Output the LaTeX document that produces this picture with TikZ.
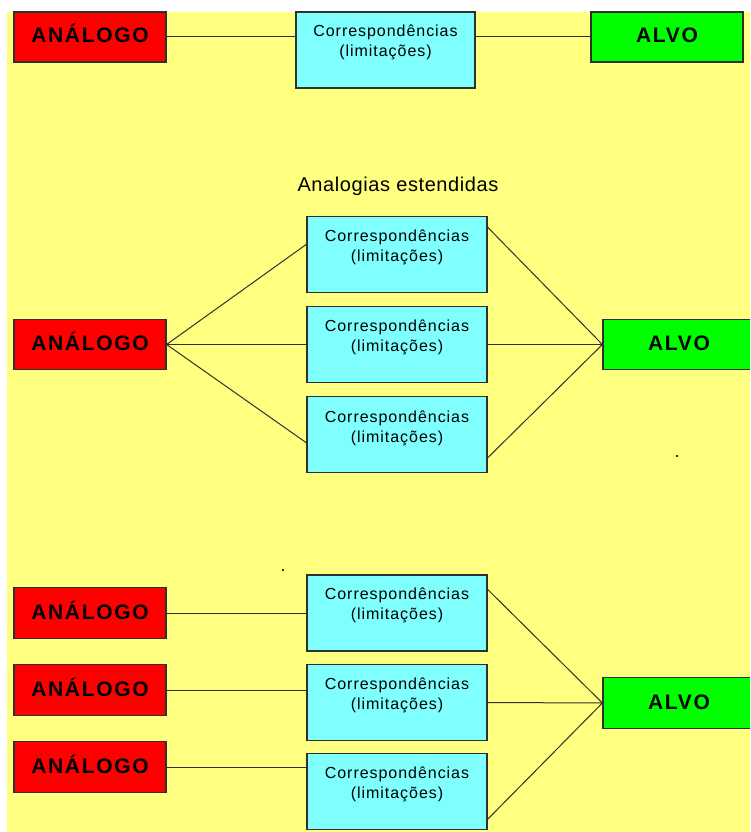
\documentclass[tikz,border=0pt]{standalone}
\usepackage{fontspec}
\setmainfont{Liberation Sans}
\newfontfamily\tagfont{Liberation Sans}[LetterSpace=8]
\newfontfamily\corrfont{Liberation Sans}[LetterSpace=6]
\newfontfamily\titlefont{Liberation Sans}[LetterSpace=3]
\usetikzlibrary{calc}
\definecolor{paper}{HTML}{FFFF80}
\definecolor{srcred}{HTML}{FF0000}
\definecolor{tgtgreen}{HTML}{00FF00}
\definecolor{corrcyan}{HTML}{80FFFF}
\definecolor{ink}{HTML}{303030}
\begin{document}
\begin{tikzpicture}[x=1pt,y=-1pt,
  box/.style={draw=ink, line width=1.2pt, rectangle, inner sep=0pt},
  tag/.style={box, minimum width=152pt, minimum height=50pt,
    text height=15pt, text depth=3pt,
    font=\tagfont\bfseries\fontsize{21}{21}\selectfont},
  source/.style={tag, fill=srcred},
  target/.style={tag, fill=tgtgreen},
  corr/.style={box, fill=corrcyan, minimum width=180pt, minimum height=76pt},
  corrtext/.style={anchor=north, inner sep=0pt, align=center,
    font=\corrfont\fontsize{16}{20}\selectfont},
  titletext/.style={anchor=base, inner sep=0pt, font=\titlefont\fontsize{20}{20}\selectfont},
  link/.style={draw=ink, line width=1pt}]

\useasboundingbox (0,0) rectangle (750,832);
\clip (0,0) rectangle (750,832);
\fill[paper] (7,12) rectangle (750,832);

% --- simple analogy ---
\node[source] (a0) at (90,37) {ANÁLOGO};
\node[corr, minimum width=179pt] (c0) at (385.5,50) {};
\node[corrtext] (l0) at ($(c0.north)+(0,13.5)$) {Correspondências\\(limitações)};
\node[target] (t0) at (667,37) {ALVO};
\draw[link] (a0.east) -- (a0.east -| c0.west);
\draw[link] (c0.east |- t0.west) -- (t0.west);

% --- extended analogies: one source ---
\node[titletext] (title) at (398,191.7) {Analogias estendidas};
\node[source] (a1) at (90,344.5) {ANÁLOGO};
\node[corr] (c1) at (397,254.3) {};
\node[corr] (c2) at (397,344.5) {};
\node[corr] (c3) at (397,434.8) {};
\node[corrtext] (l1) at ($(c1.north)+(0,14)$) {Correspondências\\(limitações)};
\node[corrtext] (l2) at ($(c2.north)+(0,14)$) {Correspondências\\(limitações)};
\node[corrtext] (l3) at ($(c3.north)+(0,14)$) {Correspondências\\(limitações)};
\node[target] (t1) at (679,344.5) {ALVO};
\draw[link] (a1.east) -- ($(c1.west)+(0,-10)$);
\draw[link] (a1.east) -- (c2.west);
\draw[link] (a1.east) -- ($(c3.west)+(0,8)$);
\draw[link] ($(c1.north east)+(0,11.5)$) -- (t1.west);
\draw[link] (c2.east) -- (t1.west);
\draw[link] ($(c3.south east)+(0,-15.5)$) -- (t1.west);

% --- extended analogies: several sources ---
\node[source, minimum height=51pt] (a2) at (90,613.3) {ANÁLOGO};
\node[source, minimum height=51pt] (a3) at (90,690) {ANÁLOGO};
\node[source, minimum height=51pt] (a4) at (90,767.3) {ANÁLOGO};
\node[corr] (c4) at (397,613) {};
\node[corr] (c5) at (397,702.5) {};
\node[corr] (c6) at (397,791.7) {};
\node[corrtext] (l4) at ($(c4.north)+(0,13.5)$) {Correspondências\\(limitações)};
\node[corrtext] (l5) at ($(c5.north)+(0,13.5)$) {Correspondências\\(limitações)};
\node[corrtext] (l6) at ($(c6.north)+(0,13.5)$) {Correspondências\\(limitações)};
\node[target, minimum height=51pt] (t2) at (679,703) {ALVO};
\draw[link] (a2.east) -- (a2.east -| c4.west);
\draw[link] (a3.east) -- (a3.east -| c5.west);
\draw[link] (a4.east) -- (a4.east -| c6.west);
\draw[link] ($(c4.north east)+(0,15)$) -- (t2.west);
\draw[link] (c5.east) -- (t2.west);
\draw[link] ($(c6.south east)+(0,-11)$) -- (t2.west);

% stray specks
\fill[ink] (676,455) rectangle (678,457);
\fill[ink] (282,569) rectangle (284,571);
\end{tikzpicture}
\end{document}
